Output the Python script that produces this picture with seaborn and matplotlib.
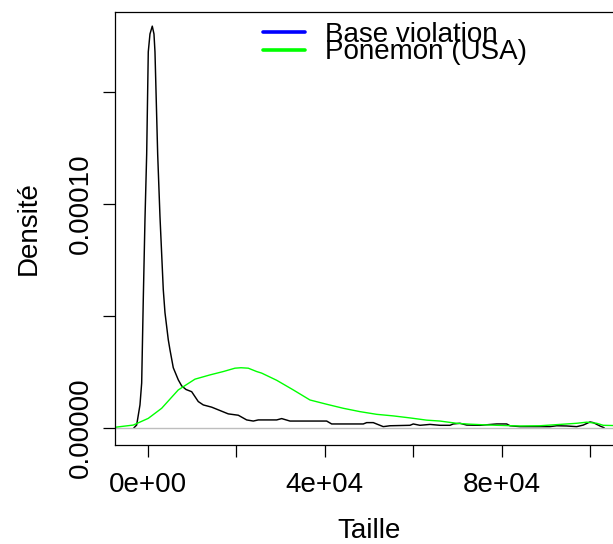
import numpy as np
import pandas as pd
import matplotlib
matplotlib.use("Agg")
import matplotlib.pyplot as plt
from matplotlib.lines import Line2D
import seaborn as sns

# Estimated density of breach sizes (base de violations), Taille vs densité (x 1e-6)
taille_base = [-3213, -2557, -1810, -1425, -1063, -679, -294, 68, 452, 973, 1357,
               1584, 2195, 2715, 3461, 3846, 4593, 4977, 5724, 6855, 7624, 8597,
               9887, 11380, 12511, 14411, 16289, 18167, 20430, 22330, 23823, 24954,
               29117, 30248, 32126, 40429, 41560, 48710, 49479, 50972, 53234, 54750,
               59275, 60021, 61537, 63800, 66062, 68324, 69071, 70587, 72103, 75112,
               78890, 81152, 81899, 84161, 90948, 92464, 94727, 96989, 98482, 100000,
               100745, 102260, 103210]
dens_base_e6 = [0.0, 1.34, 10.3, 20.1, 57.3, 93.1, 122.2, 167.9, 175.9, 179.4, 175.9,
                167.9, 122.2, 94.4, 61.8, 51.5, 39.4, 34.9, 26.9, 21.5, 18.8, 17.2,
                16.2, 11.8, 10.3, 9.3, 7.8, 6.3, 5.7, 3.6, 3.1, 3.6,
                3.6, 4.2, 3.1, 3.1, 1.8, 1.8, 2.4, 2.4, 0.6, 1.0,
                1.2, 1.8, 1.2, 1.6, 1.2, 1.2, 1.8, 2.1, 1.3, 1.2,
                1.8, 1.8, 1.0, 0.6, 0.6, 1.0, 0.9, 0.6, 1.3, 2.7,
                2.4, 0.9, 0.1]

# Ponemon (USA) density
taille_ponemon = [-7600, -3326, 68, 3099, 6855, 10633, 14027, 17036, 19683, 21040,
                  22692, 24592, 25723, 29117, 32873, 36651, 40429, 44185, 47963,
                  51741, 55497, 59275, 63053, 66062, 69840, 72849, 75112, 78890,
                  84161, 88686, 92464, 94727, 96989, 99251, 101514, 103007, 105202,
                  107900]
dens_ponemon_e6 = [0.3, 1.3, 4.3, 8.8, 17.0, 21.8, 23.7, 25.2, 26.7, 26.9,
                   26.7, 25.2, 24.5, 21.3, 17.0, 12.5, 10.6, 8.8, 7.3,
                   6.1, 5.4, 4.5, 3.5, 3.1, 2.1, 1.7, 1.5, 1.2,
                   0.9, 1.0, 1.5, 1.8, 2.1, 2.6, 2.1, 1.2, 1.1,
                   0.9]

legend_labels = ["Base violation", "Ponemon (USA)"]
legend_colors = ["#0000FF", "#00FF00"]

x_ticks = [0, 20000, 40000, 60000, 80000, 100000]
x_ticklabels = ["0e+00", "", "4e+04", "", "8e+04", ""]
y_ticks = [0.0, 5e-5, 1e-4, 1.5e-4]
y_ticklabels = ["0.00000", "", "0.00010", ""]

base = pd.DataFrame({"Taille": taille_base,
                     "Densite": np.array(dens_base_e6) * 1e-6})
ponemon = pd.DataFrame({"Taille": taille_ponemon,
                        "Densite": np.array(dens_ponemon_e6) * 1e-6})

sns.set_theme(style="white")
plt.rcParams["font.family"] = ["Liberation Sans", "DejaVu Sans"]
plt.rcParams["text.color"] = "black"

fig = plt.figure(figsize=(6.13, 5.44), dpi=100)
ax = fig.add_axes([0.1871, 0.1829, 0.8313, 0.7950])

sns.lineplot(data=base, x="Taille", y="Densite", color="black", lw=1.05,
             sort=False, estimator=None, ax=ax, zorder=2)
ax.axhline(0, color="#bebebe", lw=1.0, zorder=2.1)
sns.lineplot(data=ponemon, x="Taille", y="Densite", color="#00FF00", lw=1.0,
             sort=False, estimator=None, ax=ax, zorder=2.2)

ax.set_xlim(-7530, 107760)
ax.set_ylim(-7.37e-6, 185.7e-6)

ax.set_xticks(x_ticks)
ax.set_xticklabels(x_ticklabels)
ax.set_yticks(y_ticks)
ax.set_yticklabels(y_ticklabels, rotation=90, va="center")

ax.tick_params(axis="both", which="major", direction="out", length=8.6,
               width=0.9, color="black", labelsize=20, labelcolor="black",
               bottom=True, left=True)
ax.tick_params(axis="x", pad=11.5)
ax.tick_params(axis="y", pad=6.5)

for side in ["left", "bottom", "top", "right"]:
    ax.spines[side].set_color("black")
    ax.spines[side].set_linewidth(0.9)

ax.set_xlabel("Taille", fontsize=20, color="black")
ax.set_ylabel("Densité", fontsize=20, color="black")
ax.xaxis.set_label_coords(0.5, -0.171)
ax.yaxis.set_label_coords(-0.1427, 0.5)

handles = [Line2D([], [], color=c, lw=2.6, solid_capstyle="round")
           for c in legend_colors]
ax.legend(handles, legend_labels, loc="upper left",
          bbox_to_anchor=(0.291, 0.977), frameon=False, fontsize=20,
          handlelength=1.5, handletextpad=0.75, labelspacing=-0.31,
          borderpad=0, borderaxespad=0)

fig.savefig("out.png", dpi=100)
